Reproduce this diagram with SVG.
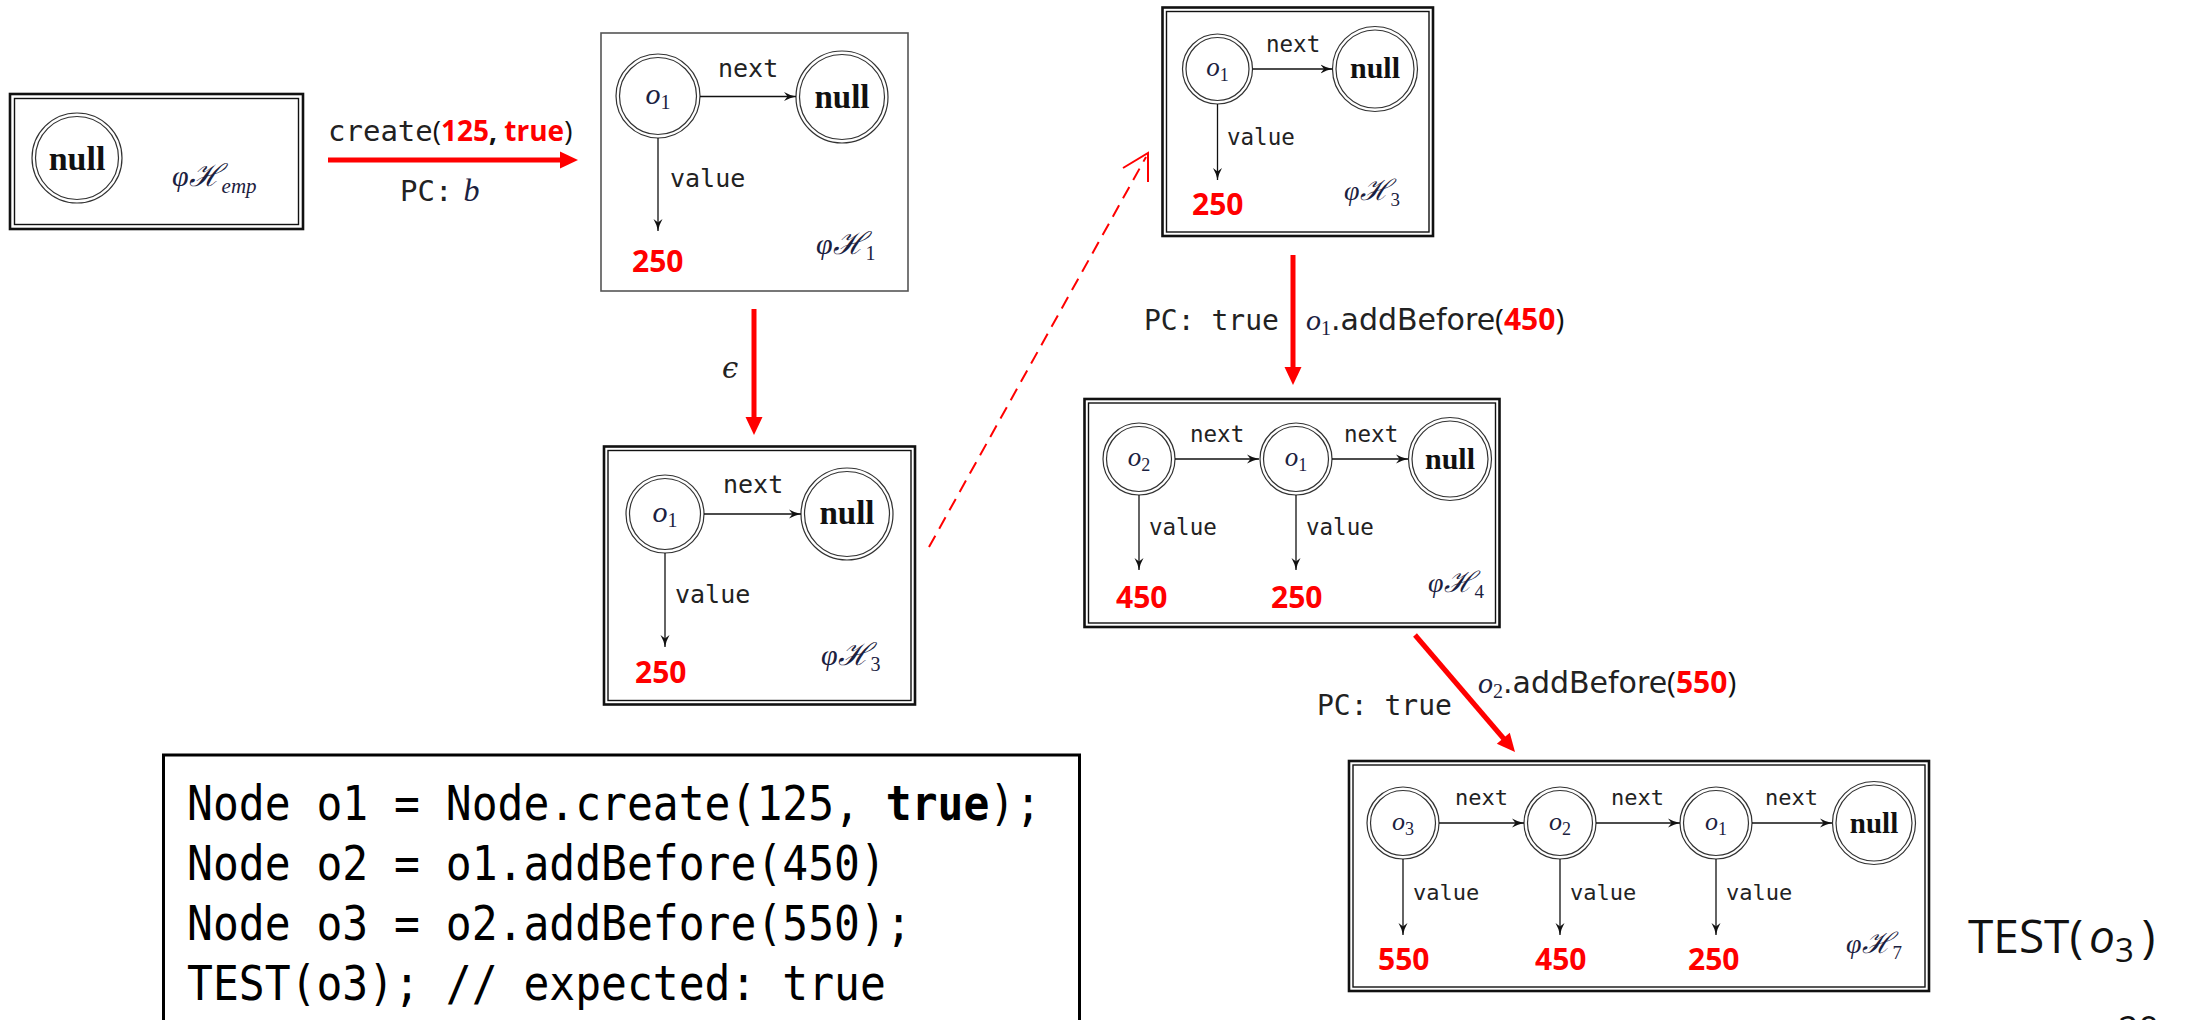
<svg xmlns="http://www.w3.org/2000/svg" width="2188" height="1020" viewBox="0 0 2188 1020">
  <defs>
    <style>
      .fo{fill:none;stroke:#111;stroke-width:2.6}
      .fi{fill:none;stroke:#111;stroke-width:1.4}
      .fs{fill:none;stroke:#555;stroke-width:1.6}
      .ring{fill:none;stroke:#333;stroke-width:1.2}
      .edge{fill:none;stroke:#111;stroke-width:1.3;marker-end:url(#ah)}
      .red{fill:none;stroke:#ff0000;stroke-width:5}
      .redhead{fill:#ff0000}
      .dash{fill:none;stroke:#ff0000;stroke-width:2;stroke-dasharray:13 8}
      .mono{font-family:"DejaVu Sans Mono",monospace;fill:#222}
      .null{font-family:"Liberation Serif","DejaVu Serif",serif;font-weight:bold;text-anchor:middle;fill:#111}
      .math{font-family:"Liberation Serif","DejaVu Serif",serif;font-style:italic;fill:#1b2140}
      .olab{font-family:"Liberation Serif","DejaVu Serif",serif;font-style:italic;fill:#1b2140;text-anchor:middle}
      .cal{font-family:"DejaVu Serif",serif;font-style:italic}
      .up{font-style:normal}
      .val{font-family:"Open Sans","Liberation Sans",sans-serif;font-weight:bold;fill:#ff0000}
      .cb{font-family:"Open Sans","Liberation Sans",sans-serif;fill:#111}
      .sans{font-family:"DejaVu Sans",sans-serif;fill:#222}
      .code{font-family:"DejaVu Sans Mono",monospace;fill:#000;font-size:43px}
    </style>
    <marker id="ah" viewBox="0 0 13 10" refX="12" refY="5" markerWidth="13" markerHeight="10" markerUnits="userSpaceOnUse" orient="auto">
      <path d="M0,0.5 Q6,4 12,5 Q6,6 0,9.5 L3.5,5 Z" fill="#111"/>
    </marker>
  </defs>
  <rect width="2188" height="1020" fill="#fff"/>

  <!-- empty heap -->
  <g id="node-emp">
    <rect class="fo" x="10" y="94" width="293" height="135"/>
    <rect class="fi" x="14.5" y="98.5" width="284" height="126"/>
    <circle class="ring" cx="77" cy="158" r="45"/>
    <circle class="ring" cx="77" cy="158" r="41.5"/>
    <text class="null" x="77" y="170" font-size="34">null</text>
    <text class="math" x="172" y="186" font-size="30">φ<tspan class="cal" font-size="31">ℋ</tspan><tspan font-size="21" dy="7">emp</tspan></text>
  </g>

  <!-- heap H1 -->
  <g id="node-h1">
    <rect class="fs" x="601" y="33" width="307" height="258"/>
    <circle class="ring" cx="658" cy="96" r="42"/>
    <circle class="ring" cx="658" cy="96" r="38.5"/>
    <circle class="ring" cx="842" cy="97" r="46"/>
    <circle class="ring" cx="842" cy="97" r="42.5"/>
    <text class="olab" x="658" y="104" font-size="30">o<tspan class="up" font-size="20" dy="5">1</tspan></text>
    <text class="null" x="842" y="108" font-size="33">null</text>
    <path class="edge" d="M700,96.5 L796,96.5"/>
    <text class="mono" x="718" y="77" font-size="25">next</text>
    <path class="edge" d="M658,138 L658,231"/>
    <text class="mono" x="670" y="187" font-size="25">value</text>
    <text class="val" x="632" y="272" font-size="30">250</text>
    <text class="math" x="816" y="254" font-size="30">φ<tspan class="cal" font-size="31">ℋ</tspan><tspan class="up" font-size="20" dy="6">1</tspan></text>
  </g>

  <!-- heap H3 (after epsilon) -->
  <g id="node-h3a">
    <rect class="fo" x="604" y="446.5" width="311" height="258"/>
    <rect class="fi" x="608" y="450.5" width="303" height="250"/>
    <circle class="ring" cx="665" cy="514" r="39"/>
    <circle class="ring" cx="665" cy="514" r="35.5"/>
    <circle class="ring" cx="847" cy="514" r="46"/>
    <circle class="ring" cx="847" cy="514" r="42.5"/>
    <text class="olab" x="665" y="522" font-size="30">o<tspan class="up" font-size="20" dy="5">1</tspan></text>
    <text class="null" x="847" y="524" font-size="33">null</text>
    <path class="edge" d="M704,514 L801,514"/>
    <text class="mono" x="723" y="493" font-size="25">next</text>
    <path class="edge" d="M665,553 L665,647"/>
    <text class="mono" x="675" y="603" font-size="25">value</text>
    <text class="val" x="635" y="683" font-size="30">250</text>
    <text class="math" x="821" y="665" font-size="30">φ<tspan class="cal" font-size="31">ℋ</tspan><tspan class="up" font-size="20" dy="6">3</tspan></text>
  </g>

  <!-- heap H3 (top right) -->
  <g id="node-h3b">
    <rect class="fo" x="1162.5" y="7.5" width="270.5" height="228.5"/>
    <rect class="fi" x="1166.5" y="11.5" width="262.5" height="220.5"/>
    <circle class="ring" cx="1217.5" cy="69" r="35"/>
    <circle class="ring" cx="1217.5" cy="69" r="31.5"/>
    <circle class="ring" cx="1375" cy="69" r="42.5"/>
    <circle class="ring" cx="1375" cy="69" r="39"/>
    <text class="olab" x="1217.5" y="76" font-size="27">o<tspan class="up" font-size="18" dy="5">1</tspan></text>
    <text class="null" x="1375" y="78" font-size="30">null</text>
    <path class="edge" d="M1252.5,69 L1332.5,69"/>
    <text class="mono" x="1266" y="52" font-size="22.5">next</text>
    <path class="edge" d="M1217.5,104 L1217.5,180"/>
    <text class="mono" x="1227" y="145" font-size="22.5">value</text>
    <text class="val" x="1192" y="215" font-size="30">250</text>
    <text class="math" x="1344" y="200" font-size="28">φ<tspan class="cal" font-size="29">ℋ</tspan><tspan class="up" font-size="19" dy="6">3</tspan></text>
  </g>

  <!-- heap H4 -->
  <g id="node-h4">
    <rect class="fo" x="1084.5" y="399" width="415" height="228"/>
    <rect class="fi" x="1088.5" y="403" width="407" height="220"/>
    <circle class="ring" cx="1139" cy="459" r="36"/>
    <circle class="ring" cx="1139" cy="459" r="32.5"/>
    <circle class="ring" cx="1296" cy="459" r="36"/>
    <circle class="ring" cx="1296" cy="459" r="32.5"/>
    <circle class="ring" cx="1450" cy="459" r="41.5"/>
    <circle class="ring" cx="1450" cy="459" r="38"/>
    <text class="olab" x="1139" y="466" font-size="27">o<tspan class="up" font-size="18" dy="5">2</tspan></text>
    <text class="olab" x="1296" y="466" font-size="27">o<tspan class="up" font-size="18" dy="5">1</tspan></text>
    <text class="null" x="1450" y="469" font-size="30">null</text>
    <path class="edge" d="M1175,459 L1259,459"/>
    <path class="edge" d="M1332,459 L1408,459"/>
    <text class="mono" x="1190" y="442" font-size="22.5">next</text>
    <text class="mono" x="1344" y="442" font-size="22.5">next</text>
    <path class="edge" d="M1139,495 L1139,570"/>
    <path class="edge" d="M1296,495 L1296,570"/>
    <text class="mono" x="1149" y="535" font-size="22.5">value</text>
    <text class="mono" x="1306" y="535" font-size="22.5">value</text>
    <text class="val" x="1116" y="608" font-size="30">450</text>
    <text class="val" x="1271" y="608" font-size="30">250</text>
    <text class="math" x="1428" y="592" font-size="28">φ<tspan class="cal" font-size="29">ℋ</tspan><tspan class="up" font-size="19" dy="6">4</tspan></text>
  </g>

  <!-- heap H7 -->
  <g id="node-h7">
    <rect class="fo" x="1349" y="761" width="580" height="230"/>
    <rect class="fi" x="1353" y="765" width="572" height="222"/>
    <circle class="ring" cx="1403" cy="823" r="36"/>
    <circle class="ring" cx="1403" cy="823" r="32.5"/>
    <circle class="ring" cx="1560" cy="823" r="36"/>
    <circle class="ring" cx="1560" cy="823" r="32.5"/>
    <circle class="ring" cx="1716" cy="823" r="36"/>
    <circle class="ring" cx="1716" cy="823" r="32.5"/>
    <circle class="ring" cx="1874" cy="823" r="41.5"/>
    <circle class="ring" cx="1874" cy="823" r="38"/>
    <text class="olab" x="1403" y="830" font-size="26">o<tspan class="up" font-size="18" dy="5">3</tspan></text>
    <text class="olab" x="1560" y="830" font-size="26">o<tspan class="up" font-size="18" dy="5">2</tspan></text>
    <text class="olab" x="1716" y="830" font-size="26">o<tspan class="up" font-size="18" dy="5">1</tspan></text>
    <text class="null" x="1874" y="833" font-size="29">null</text>
    <path class="edge" d="M1439,823 L1524,823"/>
    <path class="edge" d="M1596,823 L1680,823"/>
    <path class="edge" d="M1752,823 L1832,823"/>
    <text class="mono" x="1455" y="805" font-size="22">next</text>
    <text class="mono" x="1611" y="805" font-size="22">next</text>
    <text class="mono" x="1765" y="805" font-size="22">next</text>
    <path class="edge" d="M1403,859 L1403,935"/>
    <path class="edge" d="M1560,859 L1560,935"/>
    <path class="edge" d="M1716,859 L1716,935"/>
    <text class="mono" x="1413" y="900" font-size="22">value</text>
    <text class="mono" x="1570" y="900" font-size="22">value</text>
    <text class="mono" x="1726" y="900" font-size="22">value</text>
    <text class="val" x="1378" y="970" font-size="30">550</text>
    <text class="val" x="1535" y="970" font-size="30">450</text>
    <text class="val" x="1688" y="970" font-size="30">250</text>
    <text class="math" x="1846" y="953" font-size="28">φ<tspan class="cal" font-size="29">ℋ</tspan><tspan class="up" font-size="19" dy="6">7</tspan></text>
  </g>

  <!-- transitions between heaps -->
  <g id="connectors">
    <line class="red" x1="328" y1="160" x2="561" y2="160"/>
    <polygon class="redhead" points="560,151.5 578,160 560,168.5"/>
    <line class="red" x1="754" y1="309" x2="754" y2="418"/>
    <polygon class="redhead" points="745.5,417 754,435 762.5,417"/>
    <line class="dash" x1="929" y1="547" x2="1146" y2="157"/>
    <polyline fill="none" stroke="#ff0000" stroke-width="2" points="1123,168 1148,153 1148,182"/>
    <line class="red" x1="1293" y1="255" x2="1293" y2="368"/>
    <polygon class="redhead" points="1284.5,367 1293,385 1301.5,367"/>
    <line class="red" x1="1415" y1="635" x2="1504" y2="739"/>
    <polygon class="redhead" points="1496.8,743.8 1515,752 1509.8,732.8"/>
  </g>

  <!-- transition labels -->
  <g id="labels">
    <text y="141"><tspan class="mono" x="328" font-size="29">create</tspan><tspan class="cb" font-size="28">(</tspan><tspan class="val" font-size="28">125</tspan><tspan class="cb" font-weight="bold" font-size="28">, </tspan><tspan class="val" font-size="28">true</tspan><tspan class="cb" font-size="28">)</tspan></text>
    <text y="201"><tspan class="mono" x="400" font-size="29">PC:</tspan><tspan class="math" dx="11" font-size="32">b</tspan></text>
    <text class="cal" x="722" y="378" font-size="29" fill="#222">ϵ</text>
    <text class="mono" x="1144" y="330" font-size="28">PC: true</text>
    <text y="330"><tspan class="math" x="1306" font-size="30">o</tspan><tspan class="math up" font-size="20" dy="5">1</tspan><tspan class="sans" dy="-5" font-size="30">.addBefore</tspan><tspan class="cb" font-size="30">(</tspan><tspan class="val" font-size="30">450</tspan><tspan class="cb" font-size="30">)</tspan></text>
    <text class="mono" x="1317" y="715" font-size="28">PC: true</text>
    <text y="693"><tspan class="math" x="1478" font-size="30">o</tspan><tspan class="math up" font-size="20" dy="5">2</tspan><tspan class="sans" dy="-5" font-size="30">.addBefore</tspan><tspan class="cb" font-size="30">(</tspan><tspan class="val" font-size="30">550</tspan><tspan class="cb" font-size="30">)</tspan></text>
    <text y="953" class="cb" font-size="46"><tspan x="1968">TEST(</tspan><tspan dx="6" font-style="italic">o</tspan><tspan font-size="33" dy="9">3</tspan><tspan dx="8" dy="-9">)</tspan></text>
    <text class="cb" x="2118" y="1042" font-size="36" fill="#595959">20</text>
  </g>

  <!-- test source listing -->
  <g id="code">
    <rect x="163.5" y="755" width="916" height="300" fill="none" stroke="#000" stroke-width="3"/>
    <text class="code" transform="translate(187,820) scale(1,1.12)">Node o1 = Node.create(125, <tspan font-weight="bold">true</tspan>);</text>
    <text class="code" transform="translate(187,880) scale(1,1.12)">Node o2 = o1.addBefore(450)</text>
    <text class="code" transform="translate(187,940) scale(1,1.12)">Node o3 = o2.addBefore(550);</text>
    <text class="code" transform="translate(187,1000) scale(1,1.12)">TEST(o3); // expected: true</text>
  </g>
</svg>
